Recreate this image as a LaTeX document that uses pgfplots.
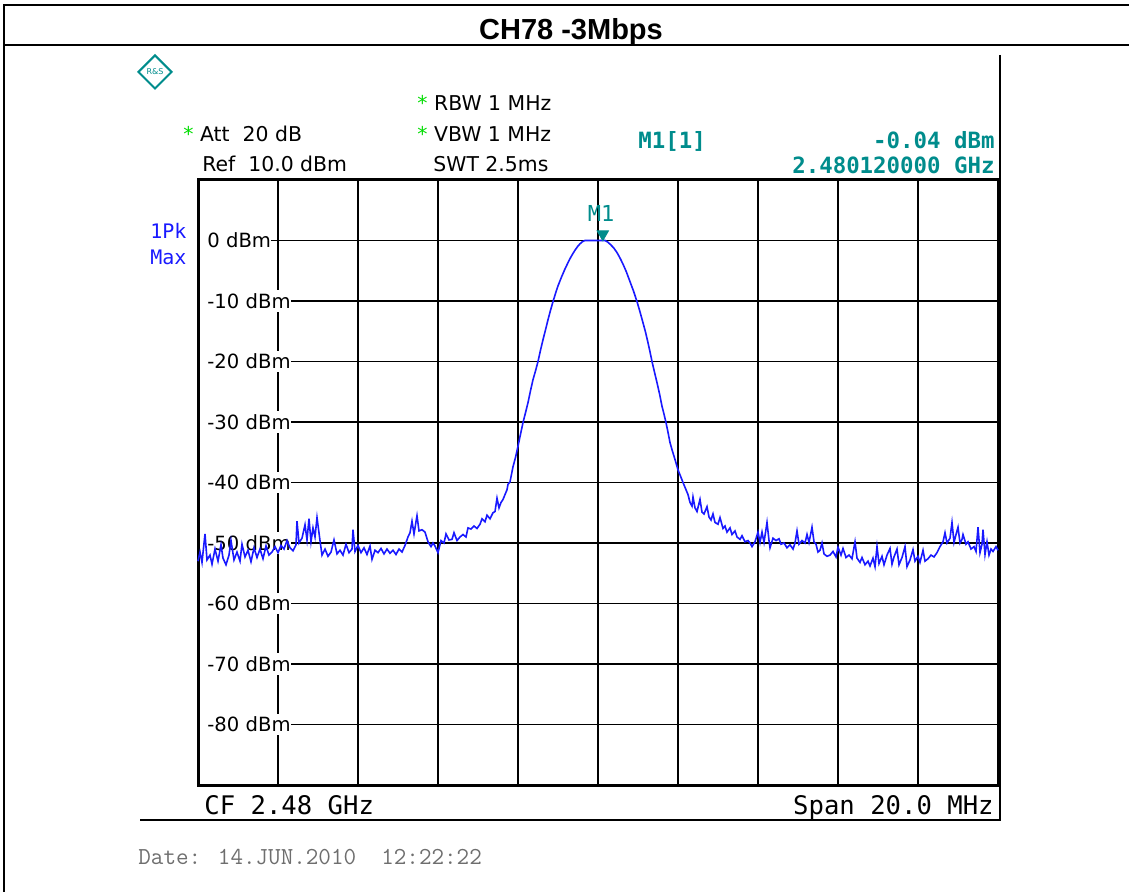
\documentclass[border=0pt]{standalone}
\usepackage{pgfplots}
\pgfplotsset{compat=1.18}
\usepackage{fontspec}
\setmainfont{DejaVu Sans}
\newfontfamily\monofont{DejaVu Sans Mono}
\newfontfamily\titlefont{Liberation Sans}
\usetikzlibrary{shapes.geometric}
\definecolor{rsteal}{RGB}{0,140,140}
\definecolor{rsblue}{RGB}{25,25,255}
\definecolor{rsgreen}{RGB}{0,220,0}
\definecolor{dategray}{RGB}{110,110,110}

% trace, offset from CF 2.48 GHz in MHz, level in dBm
\pgfplotstableread{
f dbm
-10.000 -53.0
-9.950 -51.5
-9.900 -53.2
-9.825 -48.5
-9.775 -52.8
-9.700 -52.0
-9.650 -53.5
-9.575 -51.0
-9.500 -53.0
-9.425 -50.3
-9.375 -52.5
-9.300 -53.6
-9.225 -52.0
-9.175 -49.6
-9.100 -52.8
-9.025 -51.5
-8.950 -53.0
-8.900 -50.2
-8.825 -52.3
-8.750 -51.2
-8.675 -53.1
-8.600 -50.8
-8.525 -52.4
-8.450 -51.0
-8.375 -52.6
-8.300 -50.5
-8.225 -52.0
-8.150 -51.5
-8.075 -50.6
-8.000 -51.6
-7.925 -50.4
-7.850 -51.0
-7.775 -49.6
-7.700 -50.8
-7.625 -51.3
-7.550 -50.3
-7.525 -46.4
-7.475 -50.0
-7.400 -49.2
-7.325 -47.0
-7.275 -49.5
-7.225 -46.0
-7.175 -49.8
-7.125 -47.5
-7.075 -49.0
-7.025 -45.8
-6.950 -49.6
-6.900 -52.0
-6.825 -51.0
-6.750 -52.2
-6.675 -51.5
-6.600 -49.5
-6.525 -51.8
-6.450 -51.2
-6.375 -52.0
-6.300 -50.2
-6.225 -51.6
-6.150 -51.0
-6.125 -47.8
-6.075 -51.4
-6.000 -50.4
-5.925 -51.6
-5.850 -50.8
-5.775 -51.9
-5.700 -50.5
-5.650 -52.7
-5.575 -51.2
-5.500 -51.6
-5.425 -50.9
-5.350 -51.8
-5.275 -51.0
-5.200 -51.7
-5.125 -51.2
-5.050 -51.9
-4.975 -51.0
-4.900 -51.5
-4.825 -50.4
-4.750 -49.0
-4.700 -48.3
-4.650 -46.4
-4.600 -48.5
-4.525 -45.5
-4.475 -48.0
-4.400 -47.8
-4.325 -48.2
-4.250 -49.8
-4.175 -50.6
-4.125 -50.0
-4.075 -50.5
-4.000 -51.6
-3.925 -49.6
-3.850 -50.0
-3.800 -48.5
-3.725 -49.5
-3.650 -49.4
-3.600 -48.3
-3.525 -49.6
-3.450 -49.0
-3.375 -48.6
-3.300 -49.0
-3.250 -47.5
-3.175 -47.7
-3.100 -47.2
-3.025 -47.6
-2.950 -46.9
-2.900 -46.0
-2.825 -46.5
-2.775 -45.4
-2.700 -46.0
-2.625 -45.0
-2.575 -44.8
-2.525 -42.6
-2.475 -44.2
-2.425 -43.3
-2.375 -42.8
-2.325 -42.0
-2.275 -41.2
-2.250 -40.3
-2.200 -39.9
-2.125 -37.4
-2.060 -35.8
-2.000 -34.0
-1.940 -32.1
-1.875 -30.1
-1.810 -28.4
-1.750 -26.8
-1.690 -24.9
-1.625 -23.0
-1.560 -21.5
-1.500 -20.0
-1.440 -18.2
-1.375 -16.4
-1.310 -14.7
-1.250 -13.1
-1.190 -11.6
-1.125 -10.1
-1.060 -8.7
-1.000 -7.5
-0.910 -6.0
-0.825 -4.7
-0.760 -3.8
-0.700 -3.0
-0.640 -2.3
-0.575 -1.6
-0.510 -1.0
-0.450 -0.55
-0.390 -0.2
-0.325 0.0
0.175 0.0
0.240 -0.25
0.300 -0.6
0.390 -1.2
0.475 -2.0
0.550 -2.9
0.625 -3.9
0.710 -5.2
0.800 -6.8
0.890 -8.4
0.975 -10.1
1.050 -11.8
1.125 -13.6
1.190 -15.2
1.250 -16.9
1.300 -18.4
1.350 -20.0
1.410 -21.7
1.475 -23.5
1.540 -25.4
1.600 -27.4
1.650 -28.7
1.700 -30.1
1.750 -31.7
1.800 -33.4
1.860 -34.8
1.925 -36.2
1.960 -37.0
2.000 -37.9
2.060 -38.9
2.125 -40.0
2.175 -40.8
2.250 -42.0
2.300 -43.3
2.350 -43.9
2.375 -42.4
2.425 -44.2
2.475 -44.8
2.550 -42.8
2.600 -44.9
2.650 -45.2
2.725 -44.0
2.775 -45.7
2.825 -46.2
2.875 -45.2
2.925 -46.6
3.000 -46.9
3.050 -45.8
3.125 -47.6
3.175 -47.2
3.225 -48.2
3.300 -47.5
3.350 -48.6
3.425 -48.0
3.475 -49.0
3.550 -49.4
3.600 -48.8
3.675 -49.8
3.750 -49.6
3.800 -50.0
3.850 -50.6
3.925 -49.8
4.000 -48.2
4.050 -49.9
4.100 -48.2
4.150 -49.9
4.225 -46.6
4.275 -49.6
4.300 -50.8
4.375 -49.2
4.450 -49.6
4.525 -49.3
4.575 -50.2
4.650 -50.0
4.725 -50.8
4.800 -50.3
4.875 -51.0
4.925 -50.0
4.975 -48.0
5.025 -50.2
5.100 -49.6
5.175 -50.0
5.225 -48.6
5.275 -49.9
5.350 -47.4
5.400 -49.8
5.450 -50.2
5.500 -51.5
5.550 -51.2
5.600 -50.0
5.650 -51.8
5.725 -52.2
5.800 -52.0
5.875 -51.4
5.950 -52.3
6.000 -50.7
6.075 -52.0
6.125 -50.9
6.200 -52.4
6.275 -52.0
6.350 -52.6
6.425 -49.8
6.475 -52.5
6.550 -53.2
6.600 -52.4
6.675 -53.6
6.750 -53.0
6.800 -53.8
6.875 -52.5
6.925 -53.9
6.975 -50.6
7.025 -53.4
7.100 -52.2
7.150 -53.6
7.225 -52.0
7.300 -50.9
7.350 -53.5
7.400 -52.3
7.475 -51.0
7.525 -53.6
7.600 -52.4
7.675 -50.6
7.725 -53.9
7.800 -52.8
7.875 -51.1
7.925 -53.0
8.000 -52.2
8.050 -53.2
8.125 -51.2
8.175 -53.0
8.250 -52.6
8.325 -52.0
8.400 -52.3
8.475 -51.6
8.550 -50.6
8.625 -49.8
8.675 -48.3
8.725 -50.0
8.800 -49.2
8.850 -46.6
8.900 -49.9
8.950 -48.6
9.000 -47.4
9.050 -50.0
9.100 -49.4
9.125 -48.6
9.200 -50.2
9.250 -49.8
9.325 -51.0
9.400 -50.6
9.450 -51.4
9.500 -47.4
9.550 -51.6
9.600 -50.2
9.625 -47.8
9.675 -51.9
9.725 -49.8
9.775 -52.0
9.825 -51.0
9.875 -51.4
9.950 -50.6
10.000 -51.2
}\trace

\newcommand{\lvl}[1]{\node[anchor=west, fill=white, inner xsep=0pt, inner ysep=1.5pt,
  font=\fontsize{9.8}{10}\selectfont, xshift=0.8pt] at (axis cs:-10,#1) {\hspace{3.7pt}#1 dBm\hspace{0.3pt}};}

\begin{document}
\begin{tikzpicture}
\path[use as bounding box] (0,0) rectangle (564.5pt,-446pt);
\begin{scope}[x=0.5pt,y=-0.5pt]
% report table frame
\draw[line width=1.2pt] (3,5) -- (1129,5);
\draw[line width=1pt] (4,5) -- (4,892);
\draw[line width=1.2pt] (3,45) -- (1129,45);
\node[anchor=base, inner sep=0pt, font=\titlefont\bfseries\fontsize{14.5}{15}\selectfont] at (571,40) {CH78 -3Mbps};
% instrument frame
\draw[line width=1pt] (1000,55) -- (1000,821);
\draw[line width=1.4pt] (140,820) -- (1001,820);
% logo
\node[diamond, draw=rsteal, line width=1pt, minimum size=17pt, inner sep=0pt,
  font=\fontsize{4}{4}\selectfont, text=rsteal] at (155,72) {R\&S};
% settings
\begin{scope}[every node/.style={anchor=base west, inner sep=0pt, font=\fontsize{10.2}{11}\selectfont}]
\node at (417,111) {{\color{rsgreen}*} RBW 1 MHz};
\node at (183,142) {{\color{rsgreen}*} Att\ \ 20 dB};
\node at (417,142) {{\color{rsgreen}*} VBW 1 MHz};
\node at (202,172) {Ref\ \ 10.0 dBm};
\node at (433,172) {SWT 2.5ms};
\end{scope}
\begin{scope}[every node/.style={inner sep=0pt, text=rsteal, font=\monofont\bfseries\fontsize{11.2}{12}\selectfont}]
\node[anchor=base west] at (638,149) {M1[1]};
\node[anchor=base east] at (995,149) {-0.04 dBm};
\node[anchor=base east] at (995,174) {2.480120000 GHz};
\end{scope}
\begin{scope}[every node/.style={anchor=base west, inner sep=0pt, text=rsblue, font=\monofont\fontsize{10}{11}\selectfont}]
\node at (150,239) {1Pk};
\node at (150,265) {Max};
\end{scope}
% footer
\node[anchor=base west, inner sep=0pt, font=\monofont\fontsize{12.8}{13}\selectfont] at (204,814) {CF 2.48 GHz};
\node[anchor=base east, inner sep=0pt, font=\monofont\fontsize{12.8}{13}\selectfont] at (994,814) {Span 20.0 MHz};
\node[anchor=base west, inner sep=0pt, text=dategray, font=\ttfamily\fontsize{12.2}{13}\selectfont] at (138,864) {Date: 14.JUN.2010\ \ 12:22:22};
\end{scope}

\begin{axis}[
  at={(99pt,-392.5pt)}, anchor=south west,
  scale only axis, width=400pt, height=302.5pt,
  xmin=-10, xmax=10, ymin=-90, ymax=10,
  xtick={-10,-8,...,10}, ytick={-90,-80,...,10},
  xticklabels={}, yticklabels={},
  major tick length=0pt,
  grid=major, major grid style={black, line width=0.8pt},
  axis line style={line width=1.5pt},
  clip=false,
]
\lvl{0}
\lvl{-10}
\lvl{-20}
\lvl{-30}
\lvl{-40}
\lvl{-50}
\lvl{-60}
\lvl{-70}
\lvl{-80}
\addplot[rsblue, line width=0.8pt] table[x=f, y=dbm] {\trace};
\addplot[only marks, mark=triangle*, mark size=3.3pt,
  mark options={yshift=3.3pt, rotate=180, fill=rsteal, draw=rsteal}] coordinates {(0.12,-0.04)};
\node[anchor=base, inner sep=0pt, text=rsteal, font=\monofont\fontsize{11}{12}\selectfont] at (axis cs:0.08,3.1) {M1};
\end{axis}
\end{tikzpicture}
\end{document}
